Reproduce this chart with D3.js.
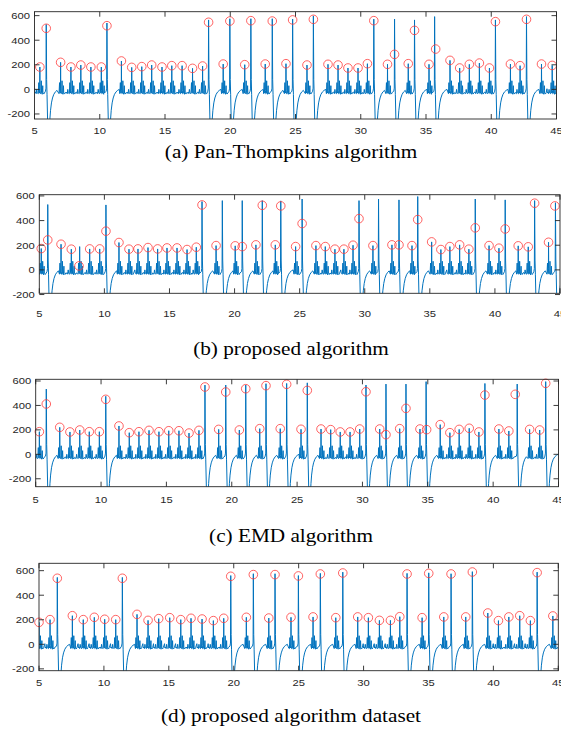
<!DOCTYPE html>
<html>
<head>
<meta charset="utf-8">
<script src="https://cdn.jsdelivr.net/npm/d3@7"></script>
<style>
body { margin: 0; background: #fff; }
svg { display: block; }
</style>
</head>
<body>
<script>
// ---------- data (time in s, amplitude) ----------

// (a) Pan-Thompkins
var aBigT = [5.90, 10.55, 18.34, 19.97, 21.58, 23.22, 24.78, 26.37, 31.00, 32.59, 34.12, 35.66, 40.32, 42.70];
var aBigV = [528, 540, 565, 575, 575, 575, 572, 598, 572, 572, 565, 592, 565, 592];
var aSmallT = [5.41, 7.00, 7.79, 8.55, 9.32, 10.12, 11.66, 12.45, 13.22, 13.98, 14.77, 15.52, 16.31, 17.11, 17.88, 19.46, 21.11, 22.68, 24.27, 25.88, 27.49, 28.26, 29.02, 29.79, 30.51, 32.05, 33.64, 35.23, 36.84, 37.58, 38.32, 39.09, 39.86, 41.47, 42.21, 43.85, 44.67];
var aSmallV = [182, 220, 182, 198, 182, 182, 231, 179, 185, 198, 182, 193, 193, 171, 190, 206, 201, 206, 209, 198, 204, 198, 174, 174, 209, 204, 209, 204, 236, 174, 204, 214, 174, 206, 193, 206, 195];
var aDetT = [5.41, 5.90, 7.00, 7.79, 8.55, 9.32, 10.12, 10.55, 11.66, 12.45, 13.22, 13.98, 14.77, 15.52, 16.31, 17.11, 17.88, 18.34, 19.46, 19.97, 21.11, 21.58, 22.68, 23.22, 24.27, 24.78, 25.88, 26.37, 27.49, 28.26, 29.02, 29.79, 30.51, 31.00, 32.05, 32.59, 33.64, 34.12, 35.23, 35.74, 36.84, 37.58, 38.32, 39.09, 39.86, 40.32, 41.47, 42.21, 42.70, 43.85, 44.67];
var aDetV = [182, 497, 220, 182, 198, 182, 182, 518, 231, 179, 185, 198, 182, 193, 193, 171, 190, 546, 206, 556, 201, 559, 206, 556, 209, 565, 198, 570, 204, 198, 174, 174, 209, 559, 204, 285, 209, 480, 204, 328, 236, 174, 204, 214, 174, 551, 206, 193, 570, 206, 195];

// (b) proposed
var bBigT = [5.65, 10.12, 17.50, 19.06, 20.59, 22.13, 23.55, 25.19, 29.56, 31.06, 32.63, 34.07, 38.49, 40.79, 43.05, 44.65];
var bBigV = [530, 527, 554, 562, 562, 562, 560, 575, 562, 575, 568, 595, 575, 568, 562, 545];
var bSmallT = [5.15, 6.67, 7.46, 8.10, 8.87, 9.64, 11.12, 11.89, 12.58, 13.35, 14.09, 14.81, 15.58, 16.35, 17.06, 18.58, 20.05, 21.64, 23.13, 24.69, 26.25, 26.97, 27.71, 28.40, 29.10, 30.63, 32.09, 33.63, 35.14, 35.85, 36.54, 37.29, 38.00, 39.55, 40.31, 41.79, 42.56, 44.12];
var bSmallV = [173, 208, 168, 189, 170, 170, 222, 168, 170, 181, 170, 178, 178, 165, 184, 197, 195, 203, 203, 189, 197, 189, 168, 168, 200, 197, 203, 197, 227, 165, 189, 203, 168, 197, 176, 195, 187, 224];
var bDetT = [5.15, 5.65, 6.67, 7.46, 8.05, 8.87, 9.64, 10.12, 11.12, 11.89, 12.58, 13.35, 14.09, 14.81, 15.58, 16.35, 17.06, 17.50, 18.58, 20.05, 20.59, 21.64, 22.13, 23.13, 23.55, 24.69, 25.19, 26.25, 26.97, 27.71, 28.40, 29.10, 29.56, 30.63, 32.09, 32.63, 33.63, 34.07, 35.14, 35.85, 36.54, 37.29, 38.00, 38.49, 39.55, 40.31, 40.79, 41.79, 42.56, 43.05, 44.12, 44.61];
var bDetV = [173, 243, 208, 168, 32, 170, 170, 314, 222, 168, 170, 181, 170, 178, 178, 165, 184, 527, 197, 195, 189, 203, 524, 203, 519, 189, 376, 197, 189, 168, 168, 200, 416, 197, 203, 203, 197, 408, 227, 165, 189, 203, 168, 341, 197, 176, 332, 195, 187, 541, 224, 519];

// (c) EMD
var cBigT = [5.81, 10.36, 17.95, 19.54, 21.07, 22.62, 24.20, 25.78, 30.27, 31.80, 33.33, 34.87, 39.37, 41.84, 44.02];
var cBigV = [534, 475, 567, 567, 567, 578, 580, 585, 567, 575, 575, 595, 580, 575, 595];
var cSmallT = [5.28, 6.84, 7.62, 8.37, 9.10, 9.87, 11.37, 12.16, 12.90, 13.67, 14.43, 15.18, 15.96, 16.73, 17.49, 19.00, 20.58, 22.14, 23.71, 25.30, 26.83, 27.57, 28.30, 29.05, 29.79, 31.32, 32.85, 34.40, 35.95, 36.69, 37.40, 38.17, 38.91, 40.44, 41.20, 42.79, 43.56];
var cSmallV = [185, 221, 183, 199, 185, 185, 232, 177, 185, 196, 185, 193, 193, 174, 196, 204, 199, 210, 210, 205, 207, 202, 183, 183, 207, 207, 210, 207, 243, 177, 204, 213, 183, 207, 191, 204, 199];
var cDetT = [5.28, 5.81, 6.84, 7.62, 8.37, 9.10, 9.87, 10.36, 11.37, 12.16, 12.90, 13.67, 14.43, 15.18, 15.96, 16.73, 17.49, 17.95, 19.00, 19.54, 20.58, 21.07, 22.14, 22.62, 23.71, 24.20, 25.30, 25.78, 26.83, 27.57, 28.30, 29.05, 29.79, 30.27, 31.32, 31.80, 32.85, 33.33, 34.40, 34.91, 35.95, 36.69, 37.40, 38.17, 38.91, 39.37, 40.44, 41.20, 41.69, 42.79, 43.56, 44.02];
var cDetV = [185, 412, 221, 183, 199, 185, 185, 450, 232, 177, 185, 196, 185, 193, 193, 174, 196, 551, 204, 510, 199, 537, 210, 562, 210, 573, 205, 523, 207, 202, 183, 183, 207, 512, 207, 161, 210, 376, 207, 202, 243, 177, 204, 213, 183, 485, 207, 191, 491, 204, 199, 581];

// (d) proposed, dataset
var dBigT = [6.41, 11.42, 19.77, 21.51, 23.18, 24.98, 26.67, 28.40, 33.35, 35.02, 36.74, 38.38, 43.37];
var dBigV = [545, 545, 560, 575, 575, 560, 578, 588, 578, 582, 575, 592, 588];
var dSmallT = [5.00, 5.85, 7.57, 8.41, 9.26, 10.06, 10.91, 12.55, 13.40, 14.22, 15.07, 15.92, 16.71, 17.56, 18.43, 19.23, 20.97, 22.70, 24.41, 26.11, 27.86, 29.55, 30.37, 31.22, 32.07, 32.79, 34.51, 36.18, 37.87, 39.57, 40.39, 41.19, 42.03, 42.85, 44.58];
var dSmallV = [179, 201, 233, 201, 220, 204, 201, 244, 195, 209, 217, 201, 212, 206, 193, 212, 220, 214, 220, 223, 217, 223, 217, 195, 195, 225, 217, 223, 223, 255, 193, 223, 233, 193, 231];
var dDetT = [5.00, 5.85, 6.41, 7.57, 8.41, 9.26, 10.06, 10.91, 11.42, 12.55, 13.40, 14.22, 15.07, 15.92, 16.71, 17.56, 18.43, 19.23, 19.77, 20.97, 21.51, 22.70, 23.18, 24.41, 24.98, 26.11, 26.67, 27.86, 28.40, 29.55, 30.37, 31.22, 32.07, 32.79, 33.35, 34.51, 35.02, 36.18, 36.74, 37.87, 38.38, 39.57, 40.39, 41.19, 42.03, 42.85, 43.37, 44.58];
var dDetV = [179, 201, 538, 233, 201, 220, 204, 201, 538, 244, 195, 209, 217, 201, 212, 206, 193, 212, 554, 220, 568, 214, 568, 220, 557, 223, 573, 217, 581, 223, 217, 195, 195, 225, 573, 217, 578, 223, 573, 223, 589, 255, 193, 223, 233, 193, 584, 231];

// beat shapes (offset from the spike in s, amplitude); the 0 entry takes the spike value
var smallShapeT = [-0.45, -0.40, -0.37, -0.33, -0.28, -0.24, -0.20, -0.17, -0.12, -0.08, -0.06, -0.03, -0.01, 0, 0.015, 0.04, 0.09, 0.11, 0.13, 0.18, 0.22, 0.24, 0.30, 0.36, 0.42];
var smallShapeV = [-25, 5, -30, -22, -35, 0, -28, -32, -35, 55, -20, -30, 10, 0, -10, -35, -30, 70, -25, -40, 30, -30, -38, -25, -32];
var bigShapeT = [-0.06, -0.02, 0, 0.03, 0.06, 0.12, 0.24, 0.28, 0.33, 0.40, 0.48, 0.58, 0.70, 0.82, 0.95, 1.05];
var bigShapeV = [-15, 10, 0, 80, -40, -330, -330, -240, -170, -110, -70, -40, -20, -8, 0, 3];

var xTicks = [5, 10, 15, 20, 25, 30, 35, 40, 45];
var yTicks = [-200, 0, 200, 400, 600];
var captions = ["(a) Pan-Thompkins algorithm", "(b) proposed algorithm", "(c) EMD algorithm", "(d) proposed algorithm dataset"];

// ---------- layout ----------
var layout = [
  {left: 34.5, right: 556.5, top: 11.7, bottom: 119,   yMin: -241, yMax: 632, xLab: 133.5, cap: 158},
  {left: 39.3, right: 560,   top: 194.7, bottom: 293.3, yMin: -190, yMax: 610, xLab: 316.7, cap: 355},
  {left: 35.7, right: 558.5, top: 379.3, bottom: 486.7, yMin: -265, yMax: 614, xLab: 503.4, cap: 542},
  {left: 39,   right: 558.3, top: 563.3, bottom: 670.7, yMin: -215, yMax: 660, xLab: 686,   cap: 722}
];
var series = [
  [aBigT, aBigV, aSmallT, aSmallV, aDetT, aDetV],
  [bBigT, bBigV, bSmallT, bSmallV, bDetT, bDetV],
  [cBigT, cBigV, cSmallT, cSmallV, cDetT, cDetV],
  [dBigT, dBigV, dSmallT, dSmallV, dDetT, dDetV]
];

var axisColor = "#262626";
var lineColor = "#0072BD";
var stretch = 1.18;   // the figure is stretched horizontally

var svg = d3.select("body").append("svg")
  .attr("width", 561).attr("height", 732);

// put every beat's shape in place along the time axis
function buildTrace(bigT, bigV, smallT, smallV) {
  var beats = [];
  bigT.forEach(function(t, i) { beats.push({t: t, v: bigV[i], sT: bigShapeT, sV: bigShapeV}); });
  smallT.forEach(function(t, i) { beats.push({t: t, v: smallV[i], sT: smallShapeT, sV: smallShapeV}); });
  beats.sort(function(p, q) { return p.t - q.t; });
  var pts = [];
  beats.forEach(function(b, i) {
    var lo = -Infinity, hi = Infinity;
    if (i > 0) {
      var p = beats[i - 1];
      lo = Math.min(p.t + p.sT[p.sT.length - 1], b.t - 0.15);
    }
    if (i < beats.length - 1) {
      var n = beats[i + 1];
      hi = Math.min(b.t + b.sT[b.sT.length - 1], n.t - 0.15);
    }
    b.sT.forEach(function(dt, k) {
      var t = b.t + dt;
      if (t >= lo && t < hi) pts.push([t, dt === 0 ? b.v : b.sV[k]]);
    });
  });
  return pts;
}

function stretchedText(g, x, y, str, size, anchor, family) {
  g.append("text")
    .attr("transform", "translate(" + x + "," + y + ") scale(" + stretch + ",1)")
    .attr("text-anchor", anchor)
    .attr("font-family", family)
    .attr("font-size", size)
    .attr("fill", family.indexOf("Serif") >= 0 ? "#000" : axisColor)
    .text(str);
}

layout.forEach(function(L, pi) {
  var s = series[pi];
  var x = d3.scaleLinear().domain([5, 45]).range([L.left, L.right]);
  var y = d3.scaleLinear().domain([L.yMin, L.yMax]).range([L.bottom, L.top]);
  var g = svg.append("g");

  g.append("clipPath").attr("id", "clip" + pi)
    .append("rect")
    .attr("x", L.left).attr("y", L.top)
    .attr("width", L.right - L.left).attr("height", L.bottom - L.top);

  var trace = buildTrace(s[0], s[1], s[2], s[3]);
  var line = d3.line().x(function(d) { return x(d[0]); }).y(function(d) { return y(d[1]); });

  g.append("path")
    .datum(trace)
    .attr("clip-path", "url(#clip" + pi + ")")
    .attr("d", line)
    .attr("fill", "none")
    .attr("stroke", lineColor)
    .attr("stroke-width", 1)
    .attr("stroke-linejoin", "round");

  // detections
  g.selectAll("circle.det")
    .data(s[4])
    .enter().append("circle")
    .attr("class", "det")
    .attr("cx", function(d) { return x(d); })
    .attr("cy", function(d, i) { return y(s[5][i]); })
    .attr("r", 4.3)
    .attr("fill", "none")
    .attr("stroke", "#ff3b3b")
    .attr("stroke-width", 0.8);

  // box
  g.append("rect")
    .attr("x", L.left).attr("y", L.top)
    .attr("width", L.right - L.left).attr("height", L.bottom - L.top)
    .attr("fill", "none").attr("stroke", axisColor).attr("stroke-width", 0.9);

  var tl = 5;
  xTicks.forEach(function(t) {
    var px = x(t);
    g.append("line").attr("x1", px).attr("x2", px).attr("y1", L.bottom).attr("y2", L.bottom - tl)
      .attr("stroke", axisColor).attr("stroke-width", 0.9);
    g.append("line").attr("x1", px).attr("x2", px).attr("y1", L.top).attr("y2", L.top + tl)
      .attr("stroke", axisColor).attr("stroke-width", 0.9);
    stretchedText(g, px, L.xLab, String(t), 9.5, "middle", "'Liberation Sans', Arial, sans-serif");
  });
  yTicks.forEach(function(t) {
    if (t < L.yMin - 15 || t > L.yMax + 15) return;
    var py = y(t);
    g.append("line").attr("x1", L.left).attr("x2", L.left + tl).attr("y1", py).attr("y2", py)
      .attr("stroke", axisColor).attr("stroke-width", 0.9);
    g.append("line").attr("x1", L.right).attr("x2", L.right - tl).attr("y1", py).attr("y2", py)
      .attr("stroke", axisColor).attr("stroke-width", 0.9);
    stretchedText(g, L.left - 4.5, py + 3.4, String(t), 9.5, "end", "'Liberation Sans', Arial, sans-serif");
  });

  stretchedText(g, 291, L.cap, captions[pi], 18, "middle", "'Liberation Serif', 'Times New Roman', serif");
});
</script>
</body>
</html>
